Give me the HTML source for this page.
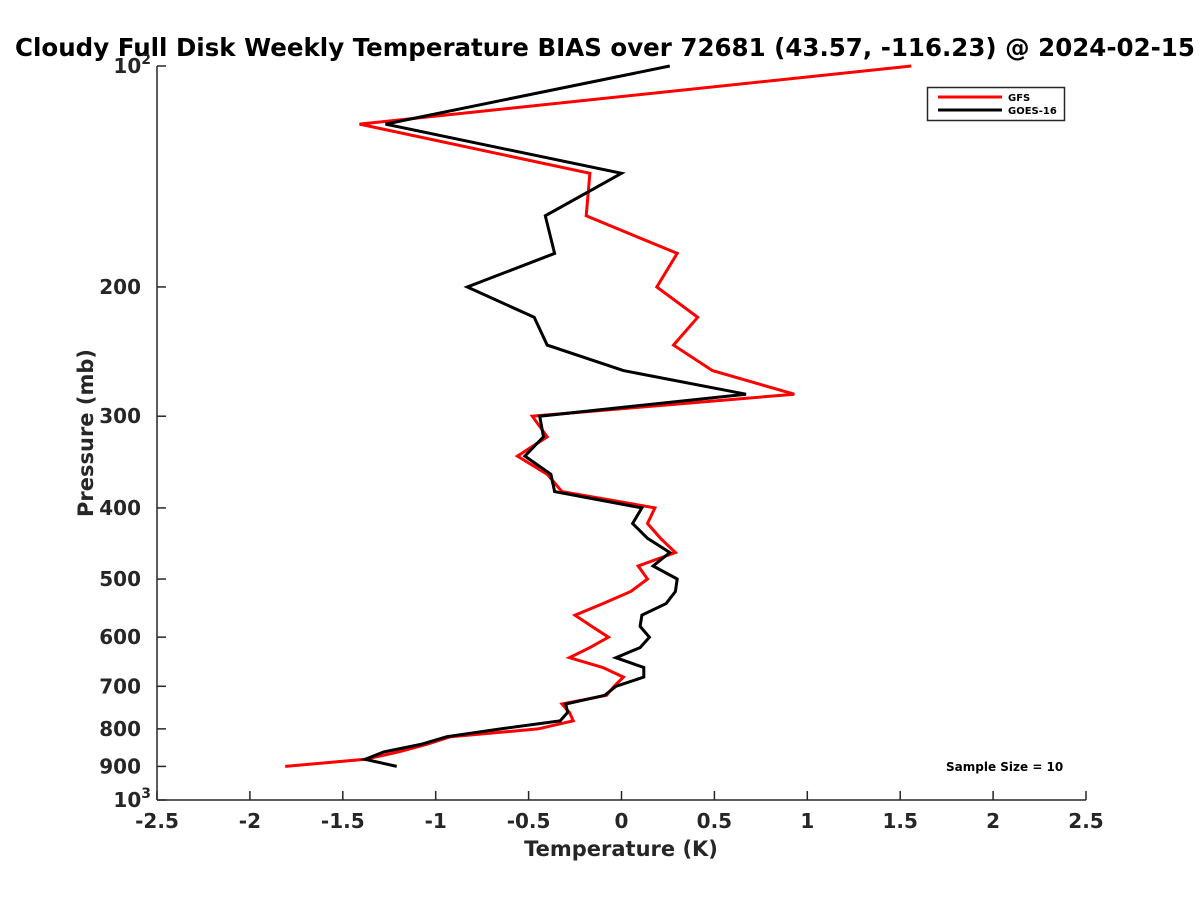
<!DOCTYPE html>
<html><head><meta charset="utf-8"><style>
html,body{margin:0;padding:0;background:#fff;overflow:hidden;}
svg{display:block;font-family:"DejaVu Sans","Liberation Sans",sans-serif;font-weight:bold;}
</style></head><body>
<svg id="chart" width="1200" height="900" viewBox="0 0 1200 900">
<rect width="1200" height="900" fill="#fff"/>
<text x="15" y="56" font-size="24.5" fill="#000">Cloudy Full Disk Weekly Temperature BIAS over 72681 (43.57, -116.23) @ 2024-02-15</text>
<g id="axes"></g>
<g id="series"></g>
<text x="621" y="856" font-size="21" text-anchor="middle" fill="#262626">Temperature (K)</text>
<text transform="translate(93,433) rotate(-90)" font-size="21" text-anchor="middle" fill="#262626">Pressure (mb)</text>
<g>
<rect x="927.5" y="87.5" width="137" height="33" fill="#fff" stroke="#262626" stroke-width="1.5"/>
<line x1="938" y1="97" x2="1002" y2="97" stroke="#ff0000" stroke-width="3"/>
<text x="1008" y="101" font-size="10" fill="#000">GFS</text>
<line x1="938" y1="110" x2="1002" y2="110" stroke="#000" stroke-width="3"/>
<text x="1008" y="114" font-size="10" fill="#000">GOES-16</text>
</g>
<text x="946" y="771" font-size="12" fill="#000">Sample Size = 10</text>
</svg>
<script>
const pressures=[100,120,140,160,180,200,220,240,260,280,300,320,340,360,380,400,420,440,460,480,500,520,540,560,580,600,620,640,660,680,700,720,740,760,780,800,820,840,860,880,900];
const gfsBias=[1.56,-1.41,-0.17,-0.19,0.30,0.19,0.41,0.28,0.49,0.93,-0.48,-0.40,-0.56,-0.40,-0.32,0.18,0.14,0.21,0.29,0.09,0.14,0.05,-0.10,-0.25,-0.16,-0.07,-0.17,-0.28,-0.10,0.01,-0.04,-0.08,-0.32,-0.28,-0.26,-0.45,-0.92,-1.05,-1.2,-1.38,-1.81];
const goesBias=[0.26,-1.27,0.00,-0.41,-0.36,-0.83,-0.47,-0.40,0.01,0.67,-0.44,-0.42,-0.52,-0.38,-0.36,0.11,0.06,0.14,0.26,0.17,0.30,0.29,0.24,0.11,0.10,0.15,0.10,-0.03,0.12,0.12,-0.03,-0.09,-0.30,-0.29,-0.33,-0.65,-0.94,-1.08,-1.28,-1.38,-1.21];
const xTicks=[-2.5,-2,-1.5,-1,-0.5,0,0.5,1,1.5,2,2.5];
const yTicks=[100,200,300,400,500,600,700,800,900,1000];
const yTickLabels=["10²","200","300","400","500","600","700","800","900","10³"];

const NS="http://www.w3.org/2000/svg";
const L=157,R=1086,T=66,B=800,XMIN=-2.5,XMAX=2.5;
function xs(v){return L+(v-XMIN)/(XMAX-XMIN)*(R-L);}
function ys(p){return T+(Math.log10(p)-2)*(B-T);}
function mk(tag,attrs,parent){const e=document.createElementNS(NS,tag);for(const k in attrs)e.setAttribute(k,attrs[k]);parent.appendChild(e);return e;}
const ax=document.getElementById('axes');
const xl=mk('line',{x1:L,y1:B,x2:R,y2:B,stroke:'#262626','stroke-width':1.5},ax);


const yl=mk('line',{x1:L,y1:T,x2:L,y2:B,stroke:'#262626','stroke-width':1.5},ax);


xTicks.forEach(v=>{
  const x=xs(v);
  const t=mk('line',{x1:x,y1:B,x2:x,y2:B-9,stroke:'#262626','stroke-width':1.5},ax);
  
  
  const tx=mk('text',{x:x,y:B+28,'font-size':20,'text-anchor':'middle',fill:'#262626'},ax);
  tx.textContent=String(v);
  
  
});
yTicks.forEach((p,i)=>{
  const y=ys(p);
  const t=mk('line',{x1:L,y1:y,x2:L+9,y2:y,stroke:'#262626','stroke-width':1.5},ax);
  
  
  const tx=mk('text',{x:L-16,y:y+7,'font-size':20,'text-anchor':'end',fill:'#262626'},ax);
  const lab=yTickLabels[i];
  if(lab.length===3&&lab.startsWith('10')){
    tx.textContent='10';
    const s=mk('tspan',{dy:-9,'font-size':14},tx);
    s.textContent=lab==="10²"?'2':'3';
    tx.setAttribute('x',L-6);
  } else tx.textContent=lab;
  
  
});
const sg=document.getElementById('series');
function pts(vals){return vals.map((v,i)=>xs(v).toFixed(1)+','+ys(pressures[i]).toFixed(1)).join(' ');}
const g1=mk('polyline',{points:pts(gfsBias),fill:'none',stroke:'#ff0000','stroke-width':3,'stroke-linejoin':'miter'},sg);


const g2=mk('polyline',{points:pts(goesBias),fill:'none',stroke:'#000','stroke-width':3,'stroke-linejoin':'miter'},sg);


</script>
</body></html>
